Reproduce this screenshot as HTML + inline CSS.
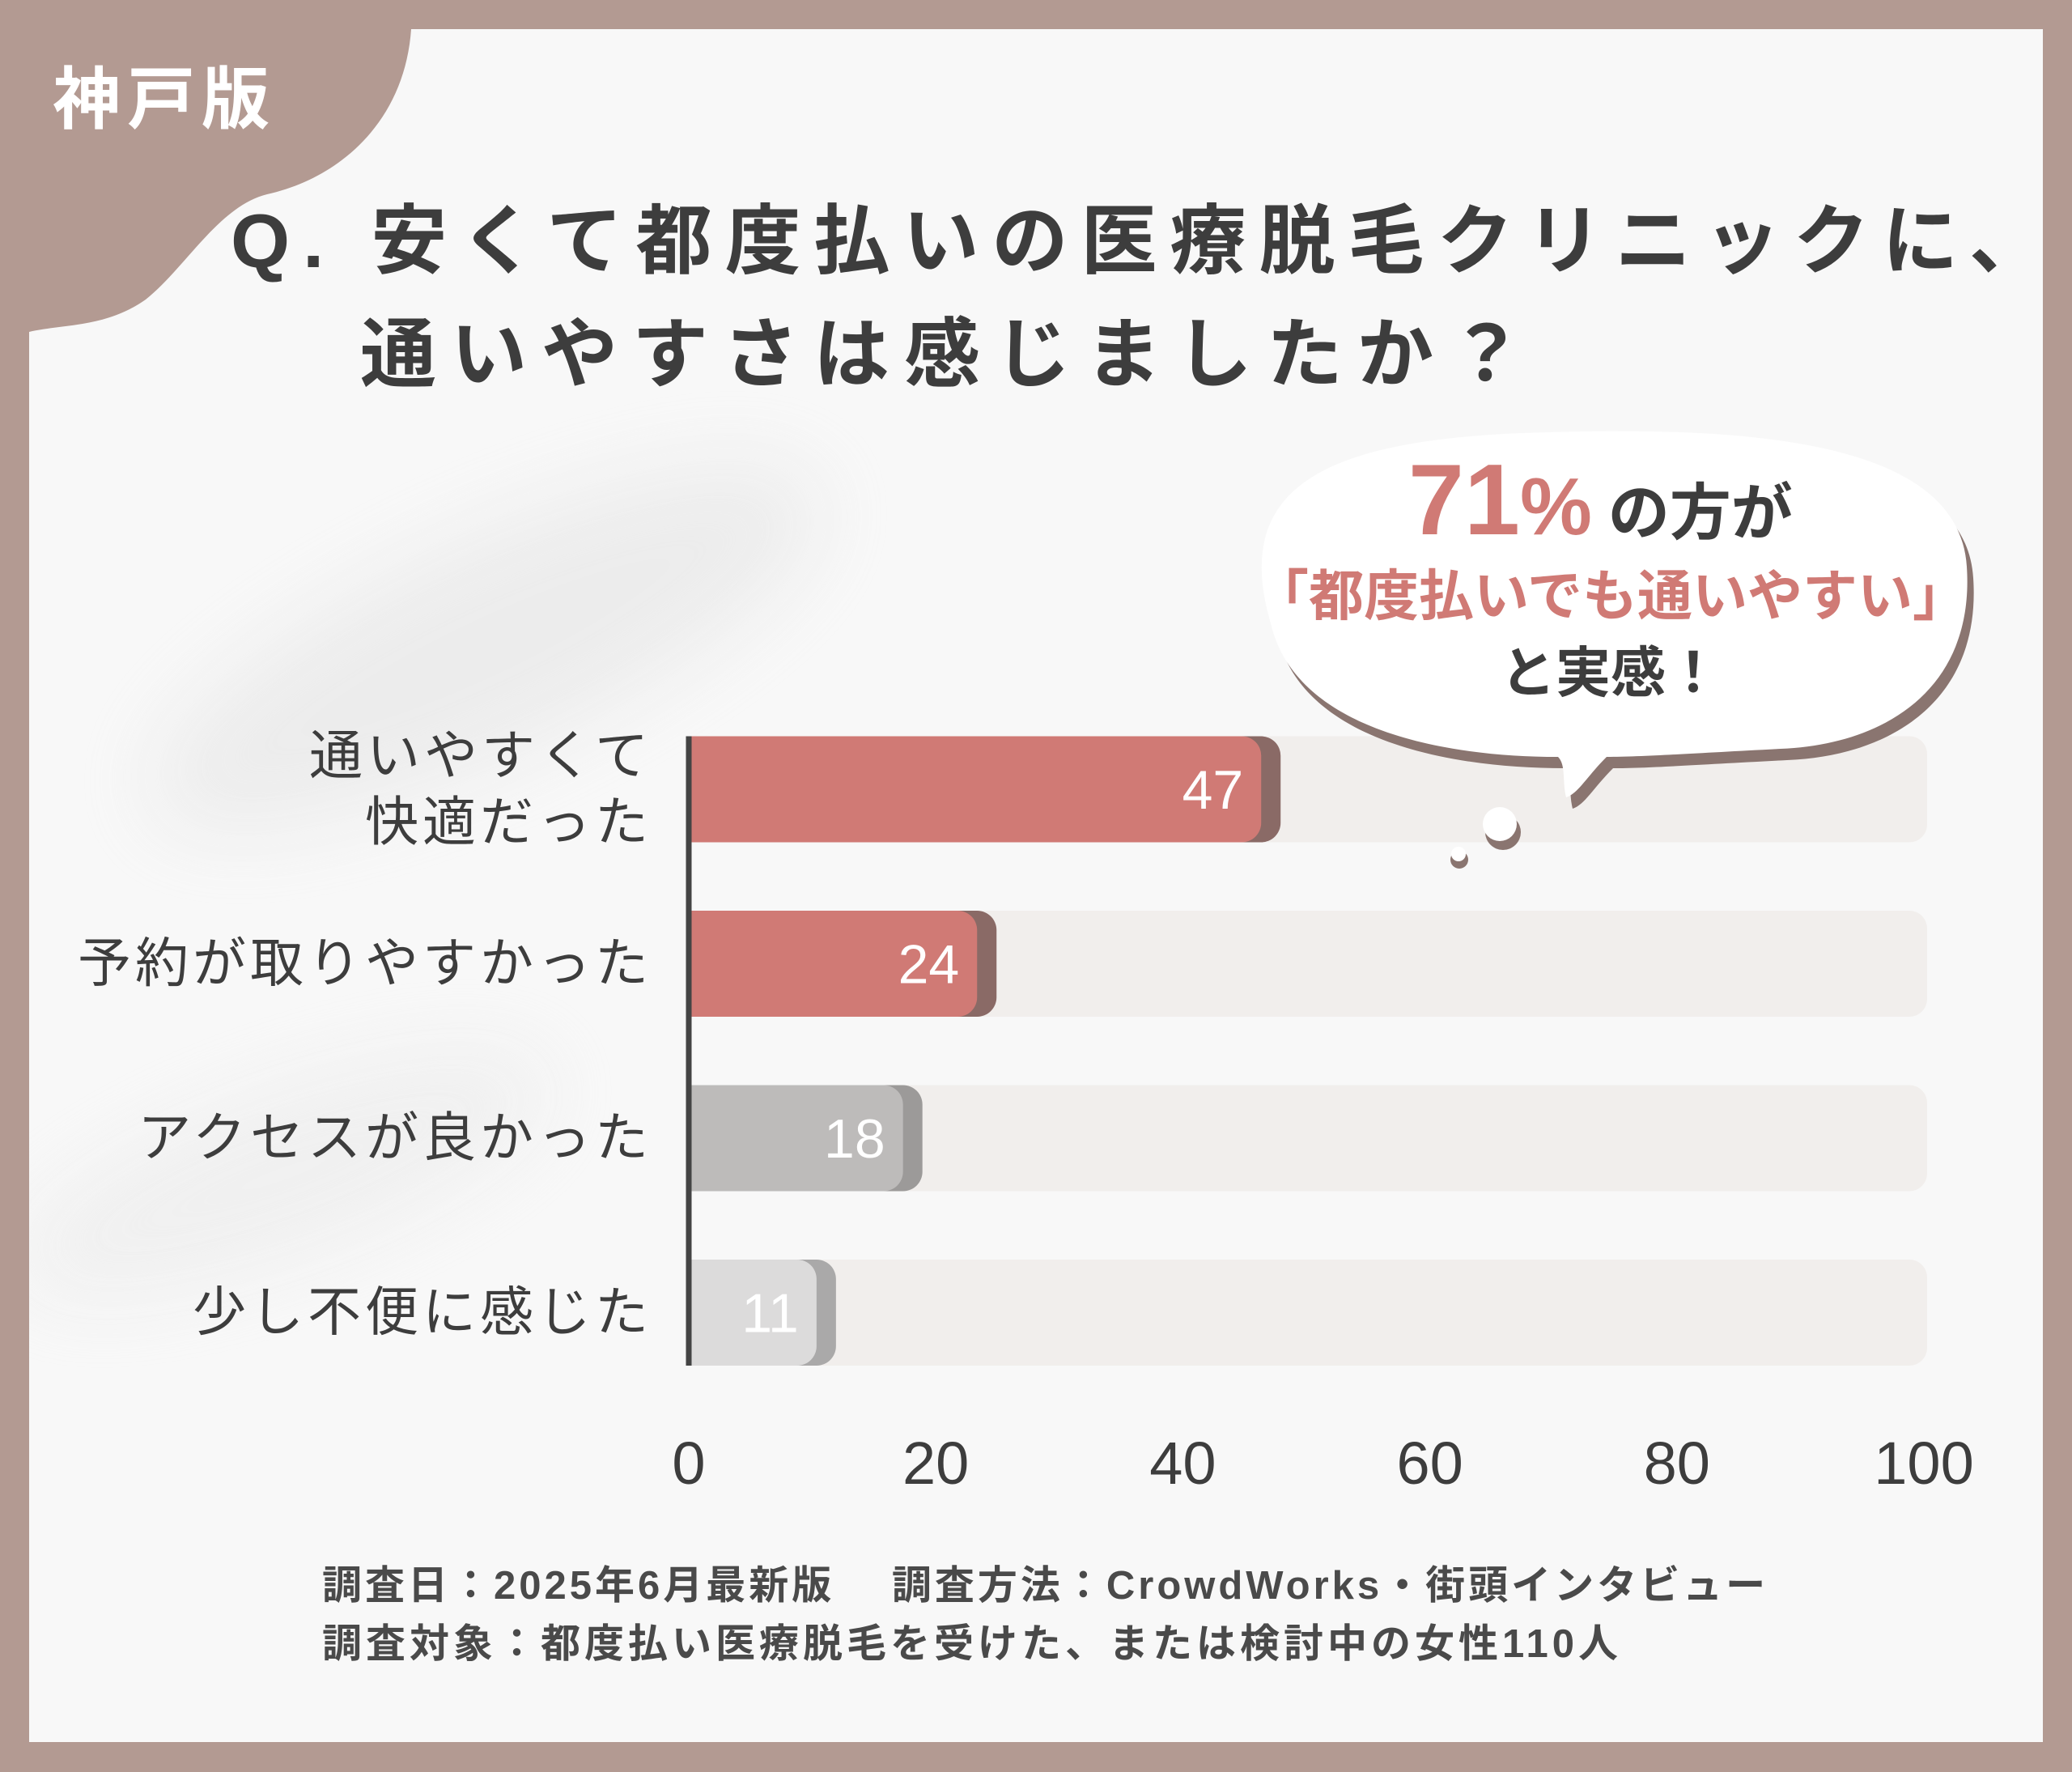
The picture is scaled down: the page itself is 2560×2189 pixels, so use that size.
<!DOCTYPE html>
<html><head><meta charset="utf-8">
<style>
html,body{margin:0;padding:0;}
body{width:2560px;height:2189px;overflow:hidden;background:#b39a92;font-family:"Liberation Sans","Noto Sans CJK JP",sans-serif;}
svg{display:block}
</style></head>
<body>
<svg width="2560" height="2189" viewBox="0 0 2560 2189" xmlns="http://www.w3.org/2000/svg" font-family="Liberation Sans, Noto Sans CJK JP, sans-serif">
<defs>
<filter id="blur" x="-50%" y="-50%" width="200%" height="200%"><feGaussianBlur stdDeviation="50"/></filter>
<clipPath id="cardclip"><rect x="36" y="36" width="2488" height="2116"/></clipPath>
</defs>
<rect x="0" y="0" width="2560" height="2189" fill="#b39a92"/>
<rect x="36" y="36" width="2488" height="2116" fill="#f8f8f8"/>
<g clip-path="url(#cardclip)">
<g filter="url(#blur)" opacity="0.45">
<ellipse cx="600" cy="800" rx="450" ry="130" fill="#dedede" transform="rotate(-25 600 800)"/>
<ellipse cx="350" cy="1450" rx="350" ry="100" fill="#e6e6e6" transform="rotate(-20 350 1450)"/>
</g>
</g>
<path d="M36 36 H508 C500 150 420 220 330 240 C270 255 230 330 180 370 C130 405 80 400 36 410 Z" fill="#b39a92"/>
<text x="65" y="152" font-size="84" font-weight="bold" fill="#ffffff" letter-spacing="8">神戸版</text>
<text x="285" y="330" font-size="94" font-weight="bold" fill="#3d3d3d" letter-spacing="16">Q. 安くて都度払いの医療脱毛クリニックに、</text>
<text x="445" y="470" font-size="94" font-weight="bold" fill="#3d3d3d" letter-spacing="18">通いやすさは感じましたか？</text>

<g id="chart"></g>

<g>
<path d="M1570 770 C1520 600 1640 545 1880 535 C2150 525 2420 540 2430 700 C2440 850 2330 920 2200 925 C2100 930 2030 935 1985 935 C1960 960 1950 980 1935 985 C1930 965 1935 945 1925 935 C1780 935 1600 900 1570 770 Z" fill="#8a7570" transform="translate(8,14)"/>
<path d="M1570 770 C1520 600 1640 545 1880 535 C2150 525 2420 540 2430 700 C2440 850 2330 920 2200 925 C2100 930 2030 935 1985 935 C1960 960 1950 980 1935 985 C1930 965 1935 945 1925 935 C1780 935 1600 900 1570 770 Z" fill="#ffffff"/>
<circle cx="1857" cy="1028" r="22" fill="#8a7570"/><circle cx="1853" cy="1018" r="21" fill="#ffffff"/>
<circle cx="1803" cy="1062" r="11" fill="#8a7570"/><circle cx="1802" cy="1055" r="9" fill="#ffffff"/>
<text x="1740" y="660" font-size="124" font-weight="bold" fill="#d07a75">71<tspan font-size="100">%</tspan><tspan font-size="76" fill="#3d3d3d" dx="20">の方が</tspan></text>
<text x="1990" y="760" text-anchor="middle" font-size="68" font-weight="bold" fill="#d07a75">「都度払いでも通いやすい」</text>
<text x="1990" y="855" text-anchor="middle" font-size="68" font-weight="bold" fill="#3d3d3d">と実感！</text>
</g>

<text x="398" y="1975" font-size="49" font-weight="bold" fill="#4a4a4a" letter-spacing="4">調査日：2025年6月最新版　 調査方法：CrowdWorks・街頭インタビュー</text>
<text x="398" y="2047" font-size="49" font-weight="bold" fill="#4a4a4a" letter-spacing="5">調査対象：都度払い医療脱毛を受けた、または検討中の女性110人</text>
</svg>
<script>
const categories = ["通いやすくて|快適だった","予約が取りやすかった","アクセスが良かった","少し不便に感じた"];
const values = [47,24,18,11];
const ticks = [0,20,40,60,80,100];
const barColors = ["#d07a75","#d07a75","#bdbbba","#dcdbdb"];
const shadowColors = ["#8a6a66","#8a6a66","#9c9a99","#aaa9a9"];
const NS="http://www.w3.org/2000/svg";
const g=document.getElementById('chart');
const x0=851,x1=2377,maxV=100;
const xs=v=>x0+(x1-x0)*v/maxV;
const rowY=i=>975+i*215.5;
const bh=131;
function mk(t,a){const e=document.createElementNS(NS,t);for(const k in a)e.setAttribute(k,a[k]);g.appendChild(e);return e;}
categories.forEach((c,i)=>{
  const cy=rowY(i),top=cy-bh/2;
  const tr=mk('rect',{x:x0,y:top,width:xs(100)-x0+4,height:bh,rx:22,fill:'#f1eeec'});
  
  
  const sh=mk('path',{d:`M${x0} ${top} H${xs(values[i])-10} a24 24 0 0 1 24 24 V${top+bh-24} a24 24 0 0 1 -24 24 H${x0} Z`,fill:shadowColors[i]});
  
  
  const b=mk('path',{d:`M${x0} ${top} H${xs(values[i])-34} a24 24 0 0 1 24 24 V${top+bh-24} a24 24 0 0 1 -24 24 H${x0} Z`,fill:barColors[i]});
  
  
  const vt=mk('text',{x:xs(values[i])-32,y:cy+24,'text-anchor':'end','font-size':68,fill:'#ffffff'});
  vt.textContent=values[i];
  
  
  const lines=c.split('|');
  lines.forEach((ln,j)=>{
    const t=mk('text',{x:806,y:cy+22+(j-(lines.length-1)/2)*82,'text-anchor':'end','font-size':66,fill:'#3d3d3d','letter-spacing':5});
    t.textContent=ln;
    
    
  });
});
const ax=mk('line',{x1:x0,y1:rowY(0)-bh/2,x2:x0,y2:rowY(3)+bh/2,stroke:'#444',"stroke-width":7});


ticks.forEach(v=>{
  const t=mk('text',{x:xs(v),y:1833,'text-anchor':'middle','font-size':74,fill:'#3d3d3d'});
  t.textContent=v;
  
  
});
</script>
</body></html>
